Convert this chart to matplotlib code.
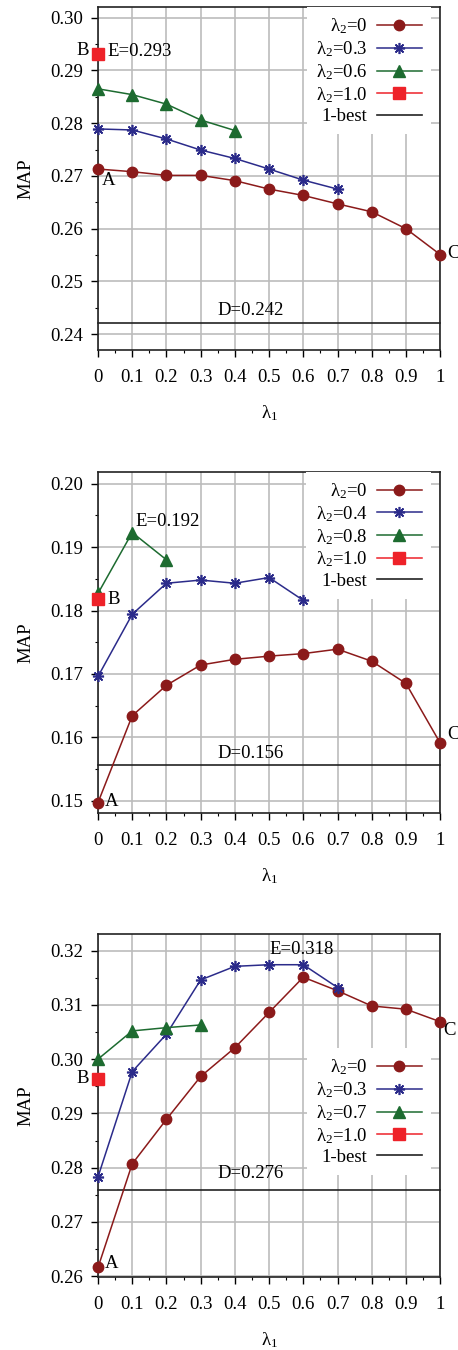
import matplotlib
matplotlib.use('Agg')
import matplotlib.pyplot as plt
from matplotlib.ticker import MultipleLocator, FormatStrFormatter

plt.rcParams['font.family'] = ['Liberation Serif', 'DejaVu Serif']
plt.rcParams['mathtext.fontset'] = 'custom'
plt.rcParams['mathtext.rm'] = 'Liberation Serif'
plt.rcParams['mathtext.it'] = 'Liberation Serif'
plt.rcParams['font.size'] = 13.5

# shared x axis values
lam1 = [0, 0.1, 0.2, 0.3, 0.4, 0.5, 0.6, 0.7, 0.8, 0.9, 1.0]
x_ticklabels = ['0', '0.1', '0.2', '0.3', '0.4', '0.5', '0.6', '0.7', '0.8', '0.9', '1']

# panel 1
p1_lam2 = ['0', '0.3', '0.6', '1.0']
p1_red = [0.2713, 0.2708, 0.2701, 0.2701, 0.2691, 0.2675, 0.2663, 0.2647, 0.2632, 0.2600, 0.2551]
p1_blue = [0.2789, 0.2787, 0.2770, 0.2749, 0.2733, 0.2713, 0.2692, 0.2675]
p1_green = [0.2865, 0.2854, 0.2836, 0.2806, 0.2786]
p1_square = 0.2931
p1_best = 0.2421

# panel 2
p2_lam2 = ['0', '0.4', '0.8', '1.0']
p2_red = [0.1497, 0.1634, 0.1682, 0.1714, 0.1723, 0.1728, 0.1732, 0.1739, 0.1720, 0.1685, 0.1591]
p2_blue = [0.1696, 0.1794, 0.1843, 0.1848, 0.1843, 0.1852, 0.1816]
p2_green = [0.1827, 0.1923, 0.1880]
p2_square = 0.1818
p2_best = 0.1556

# panel 3
p3_lam2 = ['0', '0.3', '0.7', '1.0']
p3_red = [0.2616, 0.2807, 0.2889, 0.2968, 0.3021, 0.3086, 0.3151, 0.3126, 0.3098, 0.3092, 0.3069]
p3_blue = [0.2783, 0.2977, 0.3046, 0.3146, 0.3171, 0.3174, 0.3174, 0.3132]
p3_green = [0.3000, 0.3052, 0.3058, 0.3063]
p3_square = 0.2964
p3_best = 0.2758

RED = '#8b1a1a'
BLUE = '#2b2b8a'
GREEN = '#1d6b30'
SQ = '#ee2229'
GRID = '#bcbcbc'


def draw_panel(ax, lam2, red, blue, green, square, best, ylim, ystep, notes, leg_anchor):
    ax.plot(lam1[:len(red)], red, color=RED, lw=1.1, marker='o', ms=7.5,
            label=r'$\lambda_2$=' + lam2[0], zorder=4)
    ax.plot(lam1[:len(blue)], blue, color=BLUE, lw=1.1, marker=(8, 2, 0), ms=8,
            mew=1.2, label=r'$\lambda_2$=' + lam2[1], zorder=4)
    ax.plot(lam1[:len(green)], green, color=GREEN, lw=1.1, marker='^', ms=8,
            label=r'$\lambda_2$=' + lam2[2], zorder=4)
    ax.plot([0], [square], color=SQ, lw=1.1, marker='s', ms=8,
            label=r'$\lambda_2$=' + lam2[3], zorder=5)
    ax.axhline(best, color='#222222', lw=1.2, label='1-best', zorder=3)
    for ln in ax.get_lines():
        ln.set_clip_on(False)

    ax.set_xlim(0, 1)
    ax.set_ylim(*ylim)
    ax.set_xticks(lam1)
    ax.set_xticklabels(x_ticklabels)
    ax.xaxis.set_minor_locator(MultipleLocator(0.05))
    ax.yaxis.set_major_locator(MultipleLocator(ystep))
    ax.yaxis.set_minor_locator(MultipleLocator(ystep / 2))
    ax.yaxis.set_major_formatter(FormatStrFormatter('%.2f'))
    ax.grid(True, which='major', color=GRID, lw=1.2, zorder=0)
    ax.set_axisbelow(True)
    ax.tick_params(which='major', direction='out', length=5, width=1, pad=6)
    ax.tick_params(axis='x', which='major', pad=9)
    ax.tick_params(which='minor', direction='out', length=2.5, width=0.8)
    for s in ax.spines.values():
        s.set_linewidth(1.2)
        s.set_color('#222222')
    ax.set_ylabel('MAP', labelpad=11)
    ax.set_xlabel(r'$\lambda_1$', labelpad=12)

    for txt, xy, off, ha in notes:
        ax.annotate(txt, xy=xy, xytext=off, textcoords='offset points',
                    ha=ha, va='center', annotation_clip=False, zorder=6)

    leg = ax.legend(loc='upper right', bbox_to_anchor=leg_anchor, markerfirst=False,
                    frameon=True, fancybox=False, framealpha=1, edgecolor='none',
                    borderaxespad=0, handlelength=2.4, handletextpad=0.5,
                    labelspacing=0.17, borderpad=0.5)
    leg.set_zorder(7)


fig = plt.figure(figsize=(4.58, 13.5), dpi=100)
ax1 = fig.add_axes([0.214, 0.7407, 0.747, 0.2541])
ax2 = fig.add_axes([0.214, 0.398, 0.747, 0.2526])
ax3 = fig.add_axes([0.214, 0.0543, 0.747, 0.2536])

draw_panel(ax1, p1_lam2, p1_red, p1_blue, p1_green, p1_square, p1_best,
           (0.237, 0.302), 0.01,
           [('B', (0, p1_square), (-6.5, 2.5), 'right'),
            ('E=%.3f' % p1_square, (0, p1_square), (7, 1.5), 'left'),
            ('A', (0, p1_red[0]), (3, -8), 'left'),
            ('C', (1, p1_red[-1]), (5, 1), 'left'),
            ('D=%.3f' % p1_best, (0.447, p1_best), (0, 9), 'center')],
           (0.974, 1.0))

draw_panel(ax2, p2_lam2, p2_red, p2_blue, p2_green, p2_square, p2_best,
           (0.1481, 0.2019), 0.01,
           [('B', (0, p2_square), (6.5, 0), 'left'),
            ('E=0.192', (0.1, p2_green[1]), (2, 8), 'left'),
            ('A', (0, p2_red[0]), (5, 1), 'left'),
            ('C', (1, p2_red[-1]), (5, 6), 'left'),
            ('D=0.156', (0.447, p2_best), (0, 8.5), 'center')],
           (0.974, 1.0))

draw_panel(ax3, p3_lam2, p3_red, p3_blue, p3_green, p3_square, p3_best,
           (0.2599, 0.323), 0.01,
           [('B', (0, p3_square), (-6.5, 0), 'right'),
            ('E=0.318', (0.6, p3_blue[6]), (-1, 11), 'center'),
            ('A', (0, p3_red[0]), (5, 2.5), 'left'),
            ('C', (1, p3_red[-1]), (2, -6), 'left'),
            ('D=0.276', (0.447, p3_best), (0, 12), 'center')],
           (0.974, 0.668))

fig.savefig('out.png', dpi=100)
